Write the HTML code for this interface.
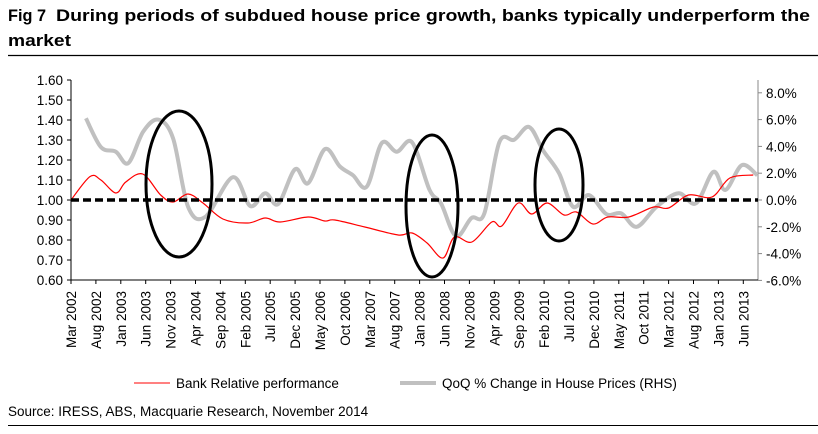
<!DOCTYPE html>
<html><head><meta charset="utf-8"><style>
body{margin:0;background:#fff;}
svg{display:block;font-family:"Liberation Sans",Arial,sans-serif;}
</style></head><body>
<svg id="chart" width="818" height="434">
<text x="8" y="21" font-size="17" font-weight="bold" textLength="38" lengthAdjust="spacingAndGlyphs">Fig 7</text>
<text x="56" y="21" font-size="17" font-weight="bold" textLength="754" lengthAdjust="spacingAndGlyphs">During periods of subdued house price growth, banks typically underperform the</text>
<text x="8" y="46" font-size="17" font-weight="bold" textLength="63" lengthAdjust="spacingAndGlyphs">market</text>
<line x1="8" y1="55.5" x2="818" y2="55.5" stroke="#000" stroke-width="1.3"/>
<g id="axes"></g>
<g id="marks"></g>
<g>
<line x1="134" y1="383" x2="170" y2="383" stroke="#f00" stroke-width="1"/>
<text x="176" y="388" font-size="13.5">Bank Relative performance</text>
<line x1="400" y1="383" x2="436" y2="383" stroke="#c0c0c0" stroke-width="4"/>
<text x="442" y="388" font-size="13.5">QoQ % Change in House Prices (RHS)</text>
</g>
<text x="8" y="416" font-size="13.5">Source: IRESS, ABS, Macquarie Research, November 2014</text>
<line x1="8" y1="425.5" x2="818" y2="425.5" stroke="#000" stroke-width="1"/>
</svg>
<script>
const categories=["Mar 2002","Aug 2002","Jan 2003","Jun 2003","Nov 2003","Apr 2004","Sep 2004","Feb 2005","Jul 2005","Dec 2005","May 2006","Oct 2006","Mar 2007","Aug 2007","Jan 2008","Jun 2008","Nov 2008","Apr 2009","Sep 2009","Feb 2010","Jul 2010","Dec 2010","May 2011","Oct 2011","Mar 2012","Aug 2012","Jan 2013","Jun 2013"];
const leftTicks=[0.6,0.7,0.8,0.9,1.0,1.1,1.2,1.3,1.4,1.5,1.6];
const rightTicks=[-6,-4,-2,0,2,4,6,8];
// months since Mar 2002
const bankMonths=[0,3.8,6,9,11,14.4,18,20.5,23.5,26.5,30.5,35.5,39,42,47.6,51,53,59,65.7,68.5,71.5,74.7,77,80.5,84.5,86.5,89.8,92.5,95.6,99,101.5,104.8,107.8,112,117,120,124,128.7,132.3,137];
const bankValues=[1.00,1.117,1.10,1.035,1.09,1.13,1.025,0.99,1.03,0.985,0.905,0.885,0.91,0.89,0.915,0.895,0.90,0.865,0.825,0.835,0.785,0.71,0.815,0.79,0.89,0.87,0.985,0.93,0.985,0.925,0.94,0.88,0.915,0.915,0.965,0.96,1.025,1.015,1.11,1.125];
const houseMonths=[3,6,9,11.5,14.5,17.5,20.5,23.5,27,32.5,36,39,41.6,45,47.6,51,54,56.6,59.4,62.4,65.4,68.5,72,74.3,77.3,80.4,83,86,89,92,94.8,98,100.8,104,107.5,110.5,113.6,117.6,122,125.5,129,131.4,134.7,137.8];
const houseValues=[6.1,3.95,3.6,2.75,5.1,6.0,4.6,-0.5,-1.25,1.7,-0.45,0.5,-0.3,2.3,1.25,3.8,2.5,1.85,1.0,4.25,3.6,4.3,0.75,-0.25,-2.7,-1.35,-1.0,4.3,4.5,5.45,3.7,2.0,-0.5,0.37,-1.05,-1.0,-2.0,-0.5,0.5,-0.25,2.1,0.75,2.6,1.85];

const X0=71,X1=758,MW=24.9/5;
const xm=m=>X0+m*MW;
const yL=v=>200-(v-1)*200;
const yR=v=>200-v*13.4;
const NS="http://www.w3.org/2000/svg";
function mk(tag,attrs,parent){const e=document.createElementNS(NS,tag);for(const k in attrs)e.setAttribute(k,attrs[k]);parent.appendChild(e);return e;}
const axes=document.getElementById('axes'),marks=document.getElementById('marks');

const la=mk('line',{x1:X0,y1:80,x2:X0,y2:280,stroke:'#000'},axes);


const ra=mk('line',{x1:X1,y1:80,x2:X1,y2:280,stroke:'#888'},axes);


const xa=mk('line',{x1:X0,y1:280,x2:X1,y2:280,stroke:'#000'},axes);



leftTicks.forEach(v=>{const y=yL(v);
 mk('line',{x1:X0-4,y1:y,x2:X0,y2:y,stroke:'#000'},axes);
 const t=mk('text',{x:X0-8,y:y+5,'font-size':13.5,'text-anchor':'end'},axes);t.textContent=v.toFixed(2);
 
 });
rightTicks.forEach(v=>{const y=yR(v);
 mk('line',{x1:X1,y1:y,x2:X1+4,y2:y,stroke:'#888'},axes);
 const t=mk('text',{x:X1+8,y:y+5,'font-size':13.5},axes);t.textContent=v.toFixed(1)+'%';
 
 });
categories.forEach((c,i)=>{const x=X0+i*24.9;
 mk('line',{x1:x,y1:280,x2:x,y2:284,stroke:'#000'},axes);
 const t=mk('text',{x:0,y:0,'font-size':13.5,'text-anchor':'end',transform:`translate(${x+5},291) rotate(-90)`},axes);t.textContent=c;
 
 });

function smooth(pts){let d=`M${pts[0][0]},${pts[0][1]}`;
 for(let i=0;i<pts.length-1;i++){const p0=pts[i-1]||pts[i],p1=pts[i],p2=pts[i+1],p3=pts[i+2]||p2;
  d+=` C${p1[0]+(p2[0]-p0[0])/6},${p1[1]+(p2[1]-p0[1])/6} ${p2[0]-(p3[0]-p1[0])/6},${p2[1]-(p3[1]-p1[1])/6} ${p2[0]},${p2[1]}`;}
 return d;}
const hp=mk('path',{d:smooth(houseMonths.map((m,i)=>[xm(m),yR(houseValues[i])])),fill:'none',stroke:'#c0c0c0','stroke-width':4,'stroke-linejoin':'round'},marks);


const bp=mk('path',{d:smooth(bankMonths.map((m,i)=>[xm(m),yL(bankValues[i])])),fill:'none',stroke:'#f00','stroke-width':1.2},marks);


const dl=mk('line',{x1:X0,y1:yL(1),x2:X1,y2:yL(1),stroke:'#000','stroke-width':3.5,'stroke-dasharray':'8 4'},marks);


[[179,184,33,73],[432,206,26,71],[559,185,24,56]].forEach(e=>{
 const el=mk('ellipse',{cx:e[0],cy:e[1],rx:e[2],ry:e[3],fill:'none',stroke:'#000','stroke-width':3},marks);
 
 });
</script>
</body></html>
